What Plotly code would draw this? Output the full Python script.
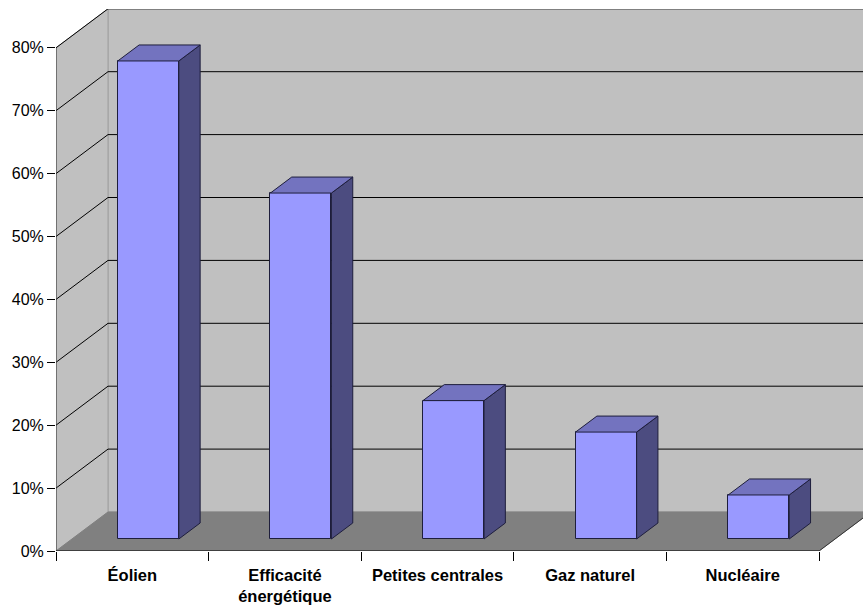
import plotly.graph_objects as go

# Data
categories = ["Éolien", "Efficacité<br>énergétique", "Petites centrales", "Gaz naturel", "Nucléaire"]
values = [76, 55, 22, 17, 7]
y_ticks = [0, 10, 20, 30, 40, 50, 60, 70, 80]

# Pseudo-3D geometry (x in category units, y in percent units)
PX_PER_CAT = 152.6
PX_PER_PCT = 6.29
DX = 52 / PX_PER_CAT        # horizontal shift of the back wall
DY = 39 / PX_PER_PCT        # vertical shift of the back wall
F0 = 12 / 39                # depth position of the bar front faces
FD = 16 / 39                # bar depth
BAR_W = 0.4
N = len(categories)
YMAX = y_ticks[-1]
X_RANGE = [0, 807 / PX_PER_CAT]
Y_RANGE = [0, 542 / PX_PER_PCT]

WALL = "#C0C0C0"
FLOOR = "#808080"
FRONT = "#9999FF"
TOP = "#7373BF"
SIDE = "#4C4C80"
EDGE = "#1E1E3C"

fig = go.Figure()


def poly(xs, ys, fill, line_color, width=1, axes=("x", "y")):
    fig.add_trace(go.Scatter(
        x=xs + [xs[0]], y=ys + [ys[0]], mode="lines", fill="toself",
        fillcolor=fill, line=dict(color=line_color, width=width),
        xaxis=axes[0], yaxis=axes[1], hoverinfo="skip", showlegend=False))


def seg(xs, ys, color="#000000", width=1):
    fig.add_trace(go.Scatter(
        x=xs, y=ys, mode="lines", line=dict(color=color, width=width),
        hoverinfo="skip", showlegend=False))


# Back wall
poly([DX, N + DX + 1, N + DX + 1, DX], [DY, DY, YMAX + DY, YMAX + DY], WALL, "#A0A0A0")
# Left wall
poly([0, 0, DX, DX], [0, YMAX, YMAX + DY, DY], WALL, "#A0A0A0")
# Floor
poly([0, N, N + DX, DX], [0, 0, DY, DY], FLOOR, FLOOR)

# Gridlines on the back wall and the left wall
for v in y_ticks[1:]:
    seg([DX, N + DX + 1], [v + DY, v + DY])
    seg([0, DX], [v, v + DY])

# Wall and floor edges
seg([0, 0], [0, YMAX], "#333333")
seg([0, N], [0, 0], "#000000")
seg([N, N + DX], [0, DY], "#333333")

# Bars live on an overlaying pair of axes so they sit above the walls
fig.add_trace(go.Bar(
    x=[i + 0.5 + F0 * DX for i in range(N)], y=values, base=F0 * DY,
    width=BAR_W, marker=dict(color=FRONT, line=dict(color=EDGE, width=1)),
    xaxis="x2", yaxis="y2", hoverinfo="skip", showlegend=False))

for i, v in enumerate(values):
    c = i + 0.5
    x0 = c - BAR_W / 2 + F0 * DX
    x1 = c + BAR_W / 2 + F0 * DX
    yb = F0 * DY
    ddx, ddy = FD * DX, FD * DY
    poly([x1, x1, x1 + ddx, x1 + ddx], [yb, v + yb, v + yb + ddy, yb + ddy], SIDE, EDGE,
         axes=("x2", "y2"))
    poly([x0, x1, x1 + ddx, x0 + ddx], [v + yb, v + yb, v + yb + ddy, v + yb + ddy], TOP, EDGE,
         axes=("x2", "y2"))

fig.update_layout(
    width=863, height=607, autosize=False,
    margin=dict(l=56, r=0, t=9, b=56, pad=0),
    paper_bgcolor="white", plot_bgcolor="white",
    font=dict(family="Liberation Sans, Arial, sans-serif", color="#000000"),
    showlegend=False, bargap=0,
    xaxis=dict(
        range=X_RANGE, showgrid=False, zeroline=False, showline=False,
        tickmode="array", tickvals=[i + 0.5 for i in range(N)], ticktext=categories,
        ticks="", ticklabelstandoff=12,
        tickfont=dict(size=16.5, family="Liberation Sans, Arial, sans-serif", weight="bold"),
        minor=dict(tickmode="array", tickvals=list(range(N + 1)), ticks="outside",
                   ticklen=9, tickcolor="#000000", tickwidth=1, showgrid=False),
        fixedrange=True,
    ),
    yaxis=dict(
        range=Y_RANGE, showgrid=False, zeroline=False, showline=False,
        tickmode="array", tickvals=y_ticks, ticktext=[f"{v}%" for v in y_ticks],
        ticks="outside", ticklen=8, tickcolor="#000000", tickwidth=1,
        tickfont=dict(size=16), fixedrange=True,
    ),
    xaxis2=dict(overlaying="x", range=X_RANGE, visible=False, fixedrange=True),
    yaxis2=dict(overlaying="y", range=Y_RANGE, visible=False, fixedrange=True),
)

fig.write_html("out.html")
